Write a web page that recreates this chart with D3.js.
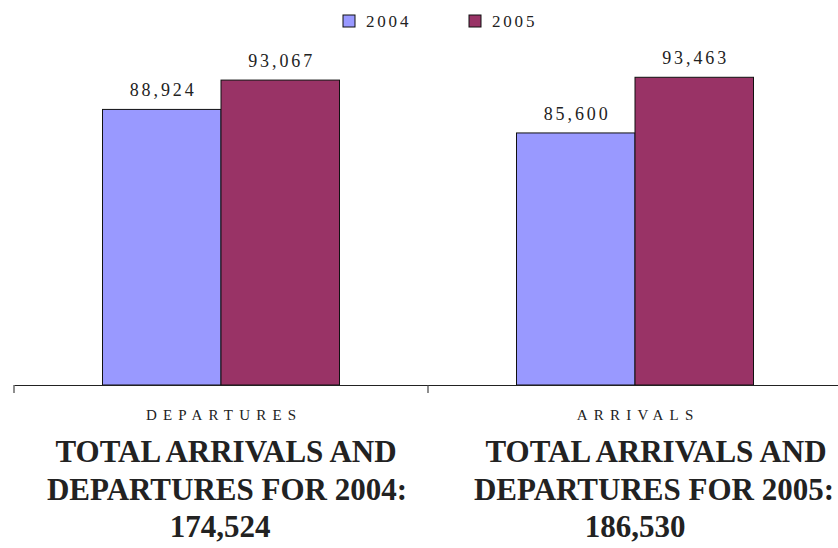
<!DOCTYPE html>
<html>
<head>
<meta charset="utf-8">
<script src="https://cdn.jsdelivr.net/npm/d3@7"></script>
<style>
  html, body { margin: 0; padding: 0; background: #fff; }
  svg { display: block; }
</style>
</head>
<body>
<svg id="chart" width="838" height="548"></svg>
<script>
// Passenger movements by direction, two years side by side
const categories = ["DEPARTURES", "ARRIVALS"];
const years = ["2004", "2005"];
const values2004 = [88924, 85600];
const values2005 = [93067, 93463];
const totalLines = [
  ["TOTAL ARRIVALS AND", "DEPARTURES FOR 2004:", "174,524"],
  ["TOTAL ARRIVALS AND", "DEPARTURES FOR 2005:", "186,530"]
];
const yDomain = [50000, 100000];
const colors = ["#9999FF", "#993366"];

const svg = d3.select("#chart");
const serif = "'Liberation Serif', 'Times New Roman', serif";
const fmt = d3.format(",");

const rows = categories.map((c, i) => ({
  category: c,
  values: [values2004[i], values2005[i]]
}));

// Scales
const x = d3.scaleBand().domain(categories).range([14, 842]).padding(0);
const inner = 237;  // combined width of a bar pair
const xs = d3.scaleBand().domain(years).range([0, inner]).padding(0);
const y = d3.scaleLinear().domain(yDomain).range([385, 31]);
const baseY = y(yDomain[0]);

// Bars
const groups = svg.append("g").selectAll("g")
  .data(rows).join("g")
  .attr("transform", d => `translate(${x(d.category) + (x.bandwidth() - inner) / 2},0)`);

groups.selectAll("rect")
  .data(d => d.values.map((v, j) => ({ year: years[j], v, j })))
  .join("rect")
  .attr("x", d => xs(d.year))
  .attr("y", d => y(d.v))
  .attr("width", xs.bandwidth())
  .attr("height", d => baseY - y(d.v))
  .attr("fill", d => colors[d.j])
  .attr("stroke", "#111")
  .attr("stroke-width", 1);

// Value labels above bars
groups.selectAll("text.val")
  .data(d => d.values.map((v, j) => ({ year: years[j], v, j })))
  .join("text")
  .attr("class", "val")
  .attr("x", d => xs(d.year) + xs.bandwidth() / 2 + 1.4)
  .attr("y", d => y(d.v) - 13)
  .attr("text-anchor", "middle")
  .attr("font-family", serif)
  .attr("font-size", 18)
  .style("letter-spacing", "2.9px")
  .attr("fill", "#222")
  .text(d => fmt(d.v));

// Category axis: baseline plus ticks at band edges
const axis = svg.append("g").attr("transform", `translate(0,${baseY})`);
axis.call(d3.axisBottom(x).tickSize(0).tickFormat(""))
  .call(g => g.select(".domain").attr("stroke", "#222").attr("stroke-width", 1.2));
const edges = categories.map(c => x(c)).concat([x.range()[1]]);
axis.selectAll("line.edge")
  .data(edges).join("line")
  .attr("class", "edge")
  .attr("x1", d => d).attr("x2", d => d)
  .attr("y1", 0).attr("y2", 8)
  .attr("stroke", "#444").attr("stroke-width", 1.2);

// Category names
const catSpacing = 6.2;
svg.append("g").selectAll("text")
  .data(categories).join("text")
  .attr("x", d => x(d) + x.bandwidth() / 2 + catSpacing / 2)
  .attr("y", 420)
  .attr("text-anchor", "middle")
  .attr("font-family", serif)
  .attr("font-size", 15)
  .style("letter-spacing", catSpacing + "px")
  .attr("fill", "#222")
  .text(d => d);

// Yearly totals under each category (line centres relative to the band centre)
const lineOffsets = [[5, 6, -1], [21, 19, 0]];
const lineY = [462, 500, 537];
categories.forEach((c, i) => {
  const cx = x(c) + x.bandwidth() / 2;
  svg.append("g").selectAll("text")
    .data(totalLines[i]).join("text")
    .attr("x", (d, k) => cx + lineOffsets[i][k])
    .attr("y", (d, k) => lineY[k])
    .attr("text-anchor", "middle")
    .attr("font-family", serif)
    .attr("font-size", 31)
    .attr("font-weight", "bold")
    .attr("fill", "#222")
    .text(d => d);
});

// Legend
const legend = svg.append("g").selectAll("g")
  .data(years).join("g")
  .attr("transform", (d, i) => `translate(${343 + i * 126},15)`);
legend.append("rect")
  .attr("width", 12).attr("height", 12)
  .attr("fill", (d, i) => colors[i])
  .attr("stroke", "#111").attr("stroke-width", 1);
legend.append("text")
  .attr("x", 23).attr("y", 12)
  .attr("font-family", serif)
  .attr("font-size", 17)
  .style("letter-spacing", "2.8px")
  .attr("fill", "#222")
  .text(d => d);
</script>
</body>
</html>
